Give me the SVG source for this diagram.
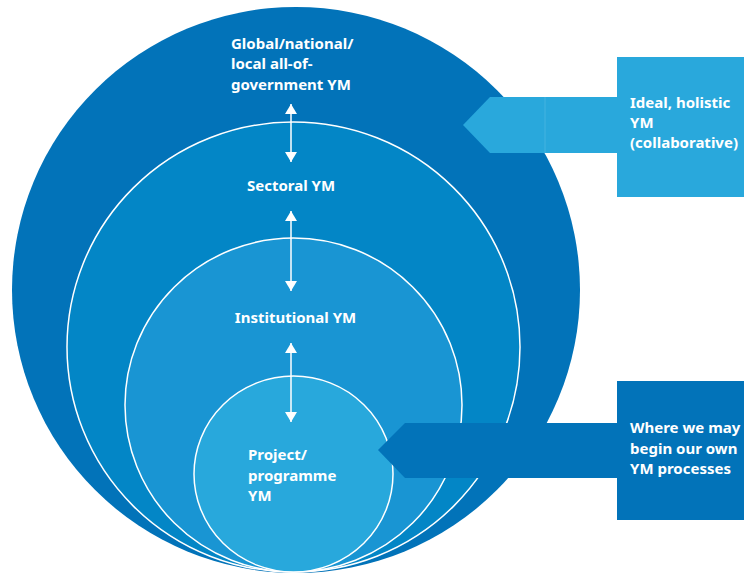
<svg xmlns="http://www.w3.org/2000/svg" width="744" height="574" viewBox="0 0 744 574">
  <style>
    .lbl { font-family: "Noto Sans", "Open Sans", "Liberation Sans", sans-serif; font-weight: bold; font-size: 15px; fill: #ffffff; }
    .ring { stroke: #ffffff; stroke-width: 1.5; }
    .conn { stroke: #ffffff; stroke-width: 1.5; fill: none; }
  </style>
  <defs>
    <marker id="ah" viewBox="0 0 10 12" refX="10" refY="6" markerWidth="10" markerHeight="12" markerUnits="userSpaceOnUse" orient="auto-start-reverse">
      <path d="M0,0 L10,6 L0,12 z" fill="#ffffff"/>
    </marker>
  </defs>
  <rect width="744" height="574" fill="#ffffff"/>

  <g id="global">
    <ellipse cx="296" cy="290" rx="284" ry="283" fill="#0273b9"/>
    <text class="lbl" x="231" y="49">Global/national/</text>
    <text class="lbl" x="231" y="69">local all-of-</text>
    <text class="lbl" x="231" y="90">government YM</text>
  </g>

  <g id="sectoral">
    <ellipse class="ring" cx="293.5" cy="347" rx="226.5" ry="225" fill="#0386c6"/>
    <text class="lbl" x="291" y="191" text-anchor="middle">Sectoral YM</text>
  </g>

  <g id="institutional">
    <ellipse class="ring" cx="293.5" cy="405" rx="168.5" ry="167" fill="#1995d3"/>
    <text class="lbl" x="295.5" y="323" text-anchor="middle">Institutional YM</text>
  </g>

  <g id="project">
    <ellipse class="ring" cx="293.5" cy="474" rx="99.5" ry="98" fill="#28a8dc"/>
    <text class="lbl" x="248" y="460">Project/</text>
    <text class="lbl" x="248" y="481">programme</text>
    <text class="lbl" x="248" y="501">YM</text>
  </g>

  <g id="ideal">
    <polygon points="463,125 490,97 617,97 617,153 490,153" fill="#29a8dc"/>
    <line x1="545" y1="97" x2="545" y2="153" stroke="#45b3e0" stroke-width="1"/>
    <rect x="617" y="57" width="127" height="140" fill="#29a8dc"/>
    <text class="lbl" x="630" y="108">Ideal, holistic</text>
    <text class="lbl" x="630" y="128">YM</text>
    <text class="lbl" x="630" y="148">(collaborative)</text>
  </g>

  <g id="begin">
    <polygon points="378,450 405,423 617,423 617,478 405,478" fill="#0273b9"/>
    <rect x="617" y="381" width="127" height="139" fill="#0273b9"/>
    <text class="lbl" x="630" y="433">Where we may</text>
    <text class="lbl" x="630" y="454">begin our own</text>
    <text class="lbl" x="630" y="474">YM processes</text>
  </g>

  <g id="connectors">
    <line class="conn" x1="291" y1="104" x2="291" y2="162" marker-start="url(#ah)" marker-end="url(#ah)"/>
    <line class="conn" x1="291" y1="211" x2="291" y2="291" marker-start="url(#ah)" marker-end="url(#ah)"/>
    <line class="conn" x1="291" y1="343" x2="291" y2="422" marker-start="url(#ah)" marker-end="url(#ah)"/>
  </g>
</svg>
